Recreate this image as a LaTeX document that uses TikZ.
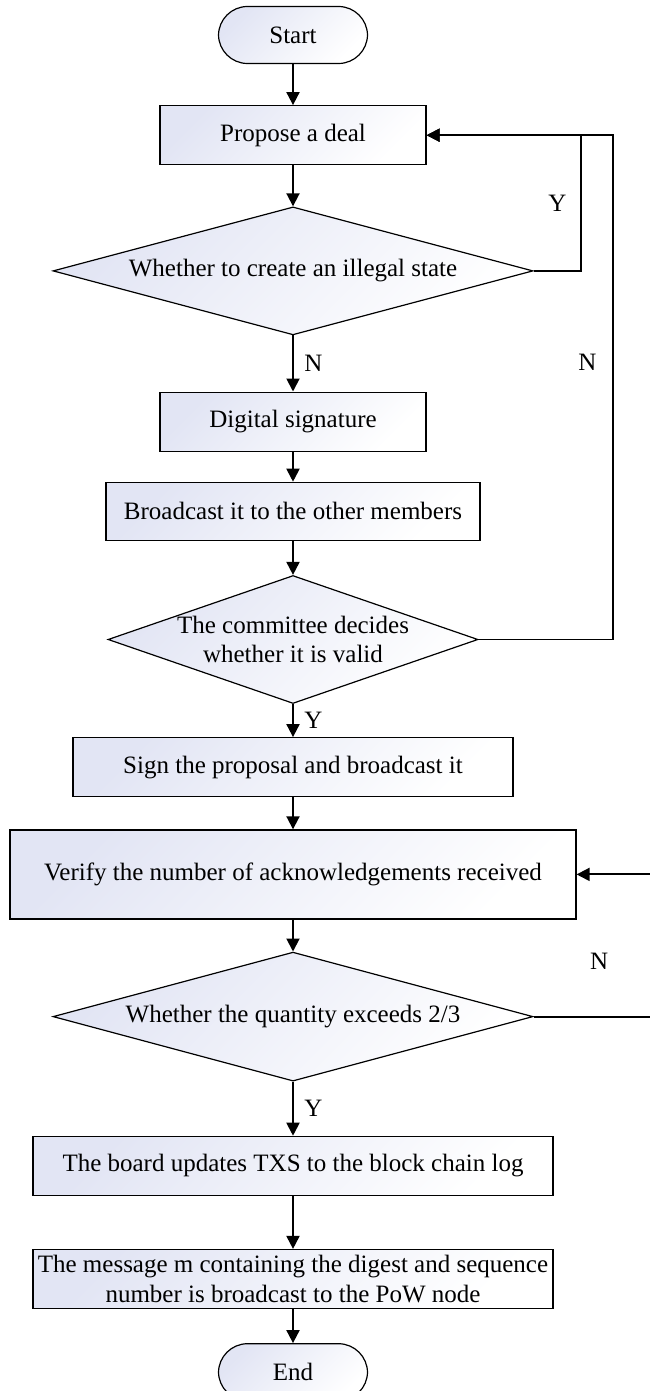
\documentclass[tikz,border=0pt]{standalone}
\usepackage{fontspec}
\setmainfont{Liberation Serif}
\usetikzlibrary{arrows.meta,positioning,shapes.geometric}
\definecolor{boxfill}{RGB}{226,229,244}

\begin{document}
\begin{tikzpicture}[->,>={Triangle[length=13pt,width=13pt]},line width=1.9pt,font=\fontsize{25}{29.5}\selectfont,
  box/.style={rectangle,draw,line width=1.2pt,inner sep=0pt,minimum height=59pt,align=center,top color=boxfill,bottom color=white,shading angle=45},
  decision/.style={diamond,aspect=3.75,draw,line width=1.2pt,inner sep=0pt,minimum width=480pt,minimum height=128pt,align=center,top color=boxfill,bottom color=white,shading angle=45},
  terminal/.style={rectangle,rounded corners=29pt,draw,line width=1.2pt,minimum width=149pt,minimum height=57pt,top color=boxfill,bottom color=white,shading angle=45}]
  \useasboundingbox (0,0) rectangle (650pt,-1391pt);
  % main column
  \node[terminal] (start) at (293pt,-35pt) {Start};
  \node[box, minimum width=266pt] (propose) [below=41pt of start] {Propose a deal};
  \node[decision] (illegal) [below=41pt of propose] {Whether to create an illegal state};
  \node[box, minimum width=266pt] (sign) [below=56pt of illegal] {Digital signature};
  \node[box, minimum width=374pt, minimum height=58pt] (bcast) [below=30pt of sign] {Broadcast it to the other members};
  \node[decision, aspect=2.9, inner sep=-6pt, minimum width=370pt] (valid) [below=34pt of bcast] {The committee decides\\whether it is valid};
  \node[box, minimum width=440pt] (signprop) [below=33pt of valid] {Sign the proposal and broadcast it};
  \node[box, minimum width=566pt, minimum height=89pt] (verify) [below=32pt of signprop] {Verify the number of acknowledgements received};
  \node[decision, minimum height=129pt] (quorum) [below=32pt of verify] {Whether the quantity exceeds 2/3};
  \node[box, minimum width=520pt] (update) [below=54pt of quorum] {The board updates TXS to the block chain log};
  \node[box, minimum width=520pt] (msg) [below=53pt of update] {The message m containing the digest and sequence\\number is broadcast to the PoW node};
  \node[terminal] (end) [below=34pt of msg] {End};

  \path (start) edge (propose)
  (propose) edge (illegal)
  (illegal) edge node[right=7pt] {N} (sign)
  (sign) edge (bcast)
  (bcast) edge (valid)
  (valid) edge node[right=7pt] {Y} (signprop)
  (signprop) edge (verify)
  (verify) edge (quorum)
  (quorum) edge node[right=7pt] {Y} (update)
  (update) edge (msg)
  (msg) edge (end)
  ;

  % loops back
  \draw (illegal.east) -- ++(47pt,0) |- node[pos=0.25,left=10pt] {Y} (propose.east);
  \draw (valid.east) -- ++(134pt,0) |- node[pos=0.275,left=12pt] {N} (propose.east);
  \draw (quorum.east) -- node[pos=0.55,above=43pt] {N} ++(119pt,0) |- (verify.east);
\end{tikzpicture}
\end{document}
